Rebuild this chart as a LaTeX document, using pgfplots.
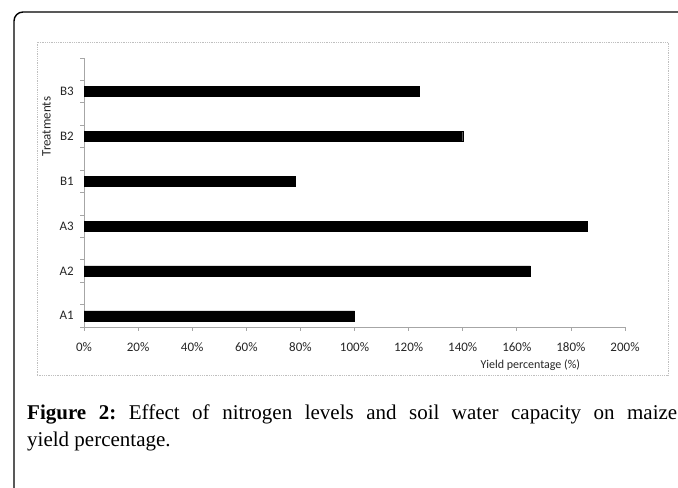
\documentclass[border=0pt]{standalone}
\usepackage{fontspec}
\setmainfont{Liberation Serif}
\newfontfamily\calibri{Carlito}
\usepackage{pgfplots}
\pgfplotsset{compat=1.18}
\definecolor{axgray}{HTML}{A6A6A6}
\definecolor{boxgray}{HTML}{BFBFBF}
\definecolor{txt}{HTML}{262626}
\frenchspacing
\begin{document}
\begin{tikzpicture}[x=1bp,y=1bp]
\useasboundingbox (0,0) rectangle (678,488);
\begin{scope}
\clip (0,0) rectangle (678,488);
\draw[line width=1.4bp, rounded corners=9bp] (14,-30) -- (14,476) -- (720,476);
\end{scope}
% chart area border
\draw[boxgray, line width=0.8bp, densely dotted] (37,113) rectangle (668,446);
\begin{axis}[
  at={(84bp,161bp)}, anchor=south west,
  scale only axis, width=541bp, height=269bp,
  xmin=0, xmax=200, ymin=0, ymax=12,
  axis x line=bottom, axis y line=left,
  axis line style={-, axgray, line width=0.8bp},
  tick align=outside,
  xtick={0,20,...,200},
  xticklabels={0\%,20\%,40\%,60\%,80\%,100\%,120\%,140\%,160\%,180\%,200\%},
  ytick={0.5,2.5,4.5,6.5,8.5,10.5},
  yticklabels={A1,A2,A3,B1,B2,B3},
  minor ytick={0,1,...,12},
  major tick length=4bp, minor tick length=4bp,
  tick style={axgray, line width=0.8bp},
  major y tick style={draw=none},
  ticklabel style={font=\calibri\fontsize{13bp}{15bp}\selectfont, text=txt},
  xticklabel style={anchor=north, inner sep=0pt, yshift=-11.5bp},
  yticklabel style={anchor=east, inner sep=0pt, xshift=-6bp},
  xlabel={Yield percentage (\%)},
  xlabel style={at={(axis description cs:0.825,-0.156)}, anchor=base, inner sep=0pt,
                font=\calibri\fontsize{12bp}{14bp}\selectfont, text=txt},
  ylabel={Treatments},
  ylabel style={at={(axis description cs:-0.0693,0.745)}, anchor=center, inner sep=0pt,
                font=\calibri\fontsize{13bp}{15bp}\selectfont, text=txt},
  clip=false,
]
\addplot[xbar, bar width=10bp, fill=black, draw=black] coordinates {
  (100,0.5) (165,2.5) (186,4.5) (78,6.5) (140,8.5) (124,10.5)
};
\end{axis}
\node[anchor=base west, inner sep=0pt, font=\fontsize{21bp}{27bp}\selectfont] at (27,68.7)
  {\hbox to 650bp{\textbf{Figure 2:} Effect of nitrogen levels and soil water capacity on maize}};
\node[anchor=base west, inner sep=0pt, font=\fontsize{21bp}{27bp}\selectfont] at (27,41.3)
  {yield percentage.};
\end{tikzpicture}
\end{document}
